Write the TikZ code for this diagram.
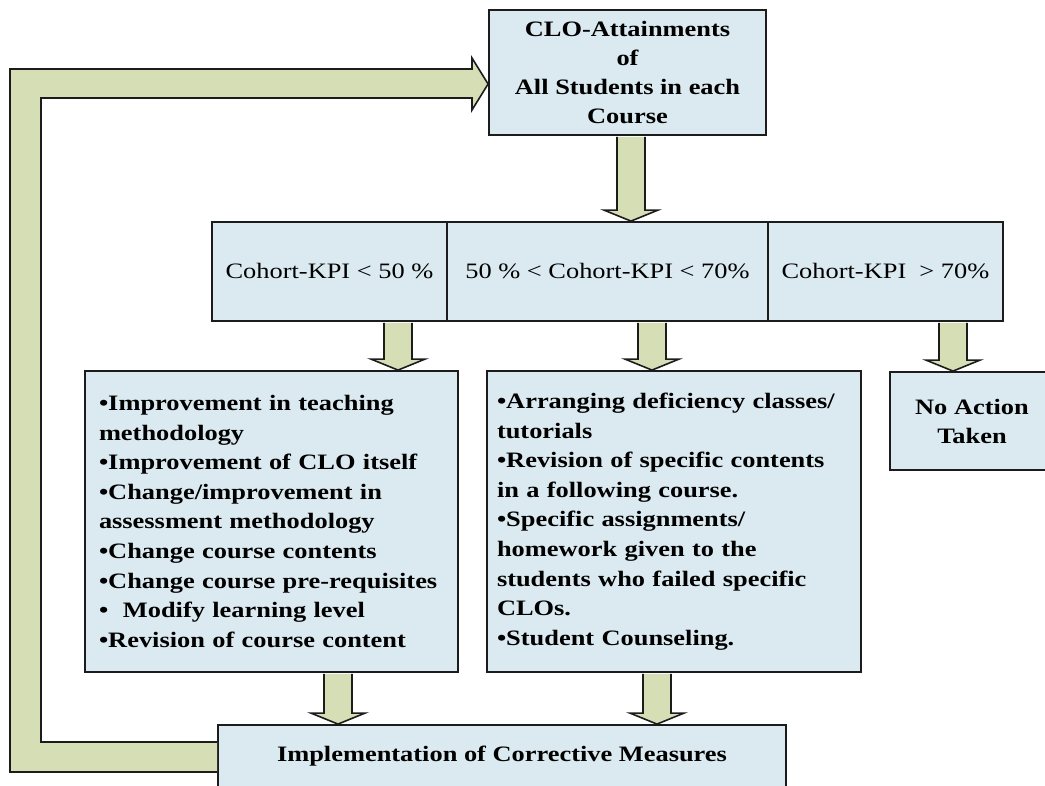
\documentclass[tikz,border=0pt]{standalone}
\usepackage{fontspec}
\setmainfont{Liberation Serif}[FakeStretch=1.2]
\usetikzlibrary{calc}

\definecolor{boxblue}{RGB}{219,234,241}
\definecolor{flowgreen}{RGB}{214,222,181}
\definecolor{edgegray}{RGB}{28,28,28}

\newcommand{\fatarrow}[3]{%
  \coordinate (s) at (#1,0 |- #2.south);
  \coordinate (t) at (#1,0 |- #3.north);
  \filldraw[flow] ($(s)+(-14,1)$) -- ($(t)+(-14,-11)$) -- ($(t)+(-27,-11)$) -- (t)
    -- ($(t)+(27,-11)$) -- ($(t)+(14,-11)$) -- ($(s)+(14,1)$);}

\begin{document}
\begin{tikzpicture}[x=1pt, y=-1pt,
  panel/.style={draw=edgegray, line width=1.8pt, fill=boxblue, inner sep=0pt,
    align=center, font=\bfseries\fontsize{22}{29}\selectfont},
  level/.style={panel, minimum width=#1, minimum height=99,
    font=\fontsize{22}{25}\selectfont},
  list/.style={panel, minimum height=301, align=left,
    font=\bfseries\fontsize{22}{29.6}\selectfont},
  flow/.style={draw=edgegray, line width=1.6pt, fill=flowgreen, line join=miter}]

\useasboundingbox (0,0) rectangle (1045,786);

\node [panel, minimum width=277, minimum height=125] (top) at (627.5,72.5)
  {CLO-Attainments\\of\\All Students in each\\Course};

\node [level=235] (low) at (329.5,271.5) {Cohort-KPI < 50 \%};
\node [level=321] (mid) at (607.5,271.5) {50 \% < Cohort-KPI < 70\%};
\node [level=235] (high) at (885.5,271.5) {Cohort-KPI\ \ > 70\%};

\node [list, text width=345, inner xsep=14] (fix) at (271.5,521.5)
  {•Improvement in teaching\\
   methodology\\
   •Improvement of CLO itself\\
   •Change/improvement in\\
   assessment methodology\\
   •Change course contents\\
   •Change course pre-requisites\\
   •\ \ Modify learning level\\
   •Revision of course content};

\node [list, text width=354, inner xsep=10] (help) at (674,521.5)
  {•Arranging deficiency classes/\\
   tutorials\\
   •Revision of specific contents\\
   in a following course.\\
   •Specific assignments/\\
   homework given to the\\
   students who failed specific\\
   CLOs.\\
   •Student Counseling.};

\node [panel, minimum width=164, minimum height=98] (none) at (972,421)
  {No Action\\Taken};

\node [panel, minimum width=568, minimum height=63] (impl) at (502,756.5)
  {Implementation of Corrective Measures};

\fatarrow{631}{top}{mid}
\fatarrow{398}{low}{fix}
\fatarrow{652}{mid}{help}
\fatarrow{953}{high}{none}
\fatarrow{338}{fix}{impl}
\fatarrow{657}{help}{impl}

\filldraw[flow] (impl.west |- 0,742) -- (41,742) -- (41,98) -- (472,98)
  -- (472,110) -- (top.west |- 0,84) -- (472,58) -- (472,69) -- (10,69)
  -- (10,772) -- (impl.west |- 0,772);

\end{tikzpicture}
\end{document}
